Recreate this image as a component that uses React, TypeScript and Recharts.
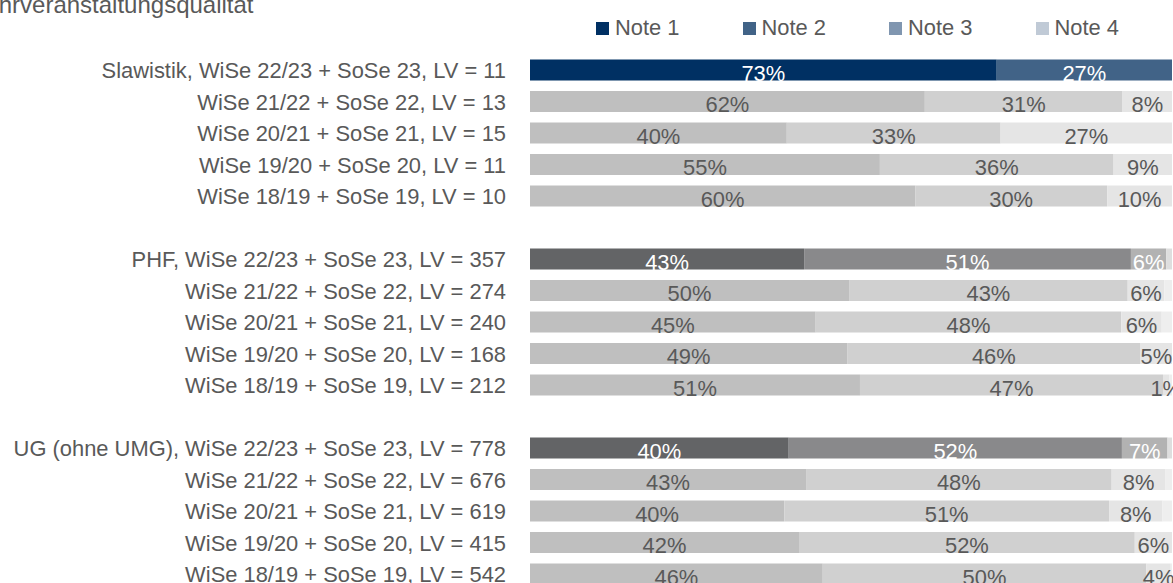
import React from "react"
import { BarChart, Bar, XAxis, YAxis, Legend, LabelList, Cell } from "recharts"

const FONT = '"Liberation Sans", Arial, sans-serif'
const TEXT = "#595959"
const FS = 21.9

const categories = [
  "Slawistik, WiSe 22/23 + SoSe 23, LV = 11",
  "WiSe 21/22 + SoSe 22, LV = 13",
  "WiSe 20/21 + SoSe 21, LV = 15",
  "WiSe 19/20 + SoSe 20, LV = 11",
  "WiSe 18/19 + SoSe 19, LV = 10",
  "",
  "PHF, WiSe 22/23 + SoSe 23, LV = 357",
  "WiSe 21/22 + SoSe 22, LV = 274",
  "WiSe 20/21 + SoSe 21, LV = 240",
  "WiSe 19/20 + SoSe 20, LV = 168",
  "WiSe 18/19 + SoSe 19, LV = 212",
  " ",
  "UG (ohne UMG), WiSe 22/23 + SoSe 23, LV = 778",
  "WiSe 21/22 + SoSe 22, LV = 676",
  "WiSe 20/21 + SoSe 21, LV = 619",
  "WiSe 19/20 + SoSe 20, LV = 415",
  "WiSe 18/19 + SoSe 19, LV = 542",
]

const note1 = [72.7, 61.5, 40.0, 54.5, 60.0, null, 42.7, 49.7, 44.5, 49.4, 51.4, null, 40.3, 43.0, 39.6, 41.9, 45.6]
const note2 = [27.3, 30.8, 33.3, 36.4, 29.9, null, 50.9, 43.4, 47.6, 45.7, 47.2, null, 51.9, 47.6, 50.6, 52.3, 50.4]
const note3 = [0, 7.7, 26.7, 9.1, 10.1, null, 5.5, 5.7, 6.3, 4.9, 1.0, null, 7.1, 8.4, 8.3, 5.8, 3.8]
const note4 = [0, 0, 0, 0, 0, null, 0.9, 1.2, 1.6, 0, 0.4, null, 0.7, 1.0, 1.5, 0, 0.2]

// row style: blue = Slawistik current, dark = comparison current, light = previous years
const rowKind = ["blue", "light", "light", "light", "light", null, "dark", "light", "light", "light", "light", null, "dark", "light", "light", "light", "light"]

const seriesNames = ["Note 1", "Note 2", "Note 3", "Note 4"]
const seriesKeys = ["n1", "n2", "n3", "n4"]

const PALETTE: Record<string, string[]> = {
  blue:  ["#003063", "#416387", "#8096b0", "#c0cad6"],
  dark:  ["#636466", "#89898b", "#b2b2b2", "#dedede"],
  light: ["#bfbfbf", "#d0d0d0", "#e5e5e5", "#eeeeee"],
}

const data = categories.map((name, i) => ({
  name,
  kind: rowKind[i],
  n1: note1[i],
  n2: note2[i],
  n3: note3[i],
  n4: note4[i],
}))

// carry the row kind along with the value, label indices skip empty entries
const accessor = (k: string) => (entry: any) => {
  const p = entry?.payload ?? {}
  return `${p.kind ?? "light"}|${p[k] ?? entry?.value ?? 0}`
}

const makeLabel = (si: number) => (props: any) => {
  const { x, y, width, height, value } = props
  const [kind, raw] = String(value).split("|")
  const v = Number(raw)
  if (!v || v <= 0) return null
  if (si === 3 && v < 5) return null
  const fill = kind === "light" ? TEXT : "#ffffff"
  return (
    <text
      x={Number(x) + Number(width) / 2}
      y={Number(y) + Number(height)}
      textAnchor="middle"
      fill={fill}
      fontSize={FS}
      fontFamily={FONT}
    >
      {Math.round(v)}%
    </text>
  )
}

const LegendContent = () => (
  <div style={{ display: "flex", height: 30, alignItems: "center", fontFamily: FONT, fontSize: FS, color: TEXT }}>
    {seriesNames.map((n, i) => (
      <div key={n} style={{ width: 146.5, display: "flex", alignItems: "center" }}>
        <span style={{ width: 13, height: 13, background: PALETTE.blue[i], marginRight: 6, display: "inline-block" }} />
        <span>{n}</span>
      </div>
    ))}
  </div>
)

export default function App() {
  return (
    <div style={{ position: "fixed", top: 0, left: 0, width: 1173, height: 583, overflow: "hidden", background: "#fff" }}>
      <div style={{ position: "absolute", left: -28, top: -9, fontFamily: FONT, fontSize: 24, color: TEXT, whiteSpace: "nowrap" }}>
        Lehrveranstaltungsqualität
      </div>
      <BarChart
        width={1173}
        height={600}
        data={data}
        layout="vertical"
        margin={{ top: 24.5, right: 1, left: 0, bottom: 10 }}
        barSize={21}
      >
        <XAxis type="number" domain={[0, 100]} hide />
        <YAxis
          type="category"
          dataKey="name"
          width={530}
          axisLine={false}
          tickLine={false}
          tickSize={0}
          tickMargin={24}
          interval={0}
          tick={{ fontSize: FS, fill: TEXT, fontFamily: FONT }}
        />
        <Legend
          verticalAlign="top"
          content={<LegendContent />}
          wrapperStyle={{ top: 13, left: 596, width: 600 }}
        />
        {seriesKeys.map((k, si) => (
          <Bar key={k} dataKey={k} name={seriesNames[si]} stackId="a" isAnimationActive={false}>
            {data.map((d, i) => (
              <Cell key={i} fill={d.kind ? PALETTE[d.kind][si] : "transparent"} />
            ))}
            <LabelList valueAccessor={accessor(k)} content={makeLabel(si)} />
          </Bar>
        ))}
      </BarChart>
    </div>
  )
}
